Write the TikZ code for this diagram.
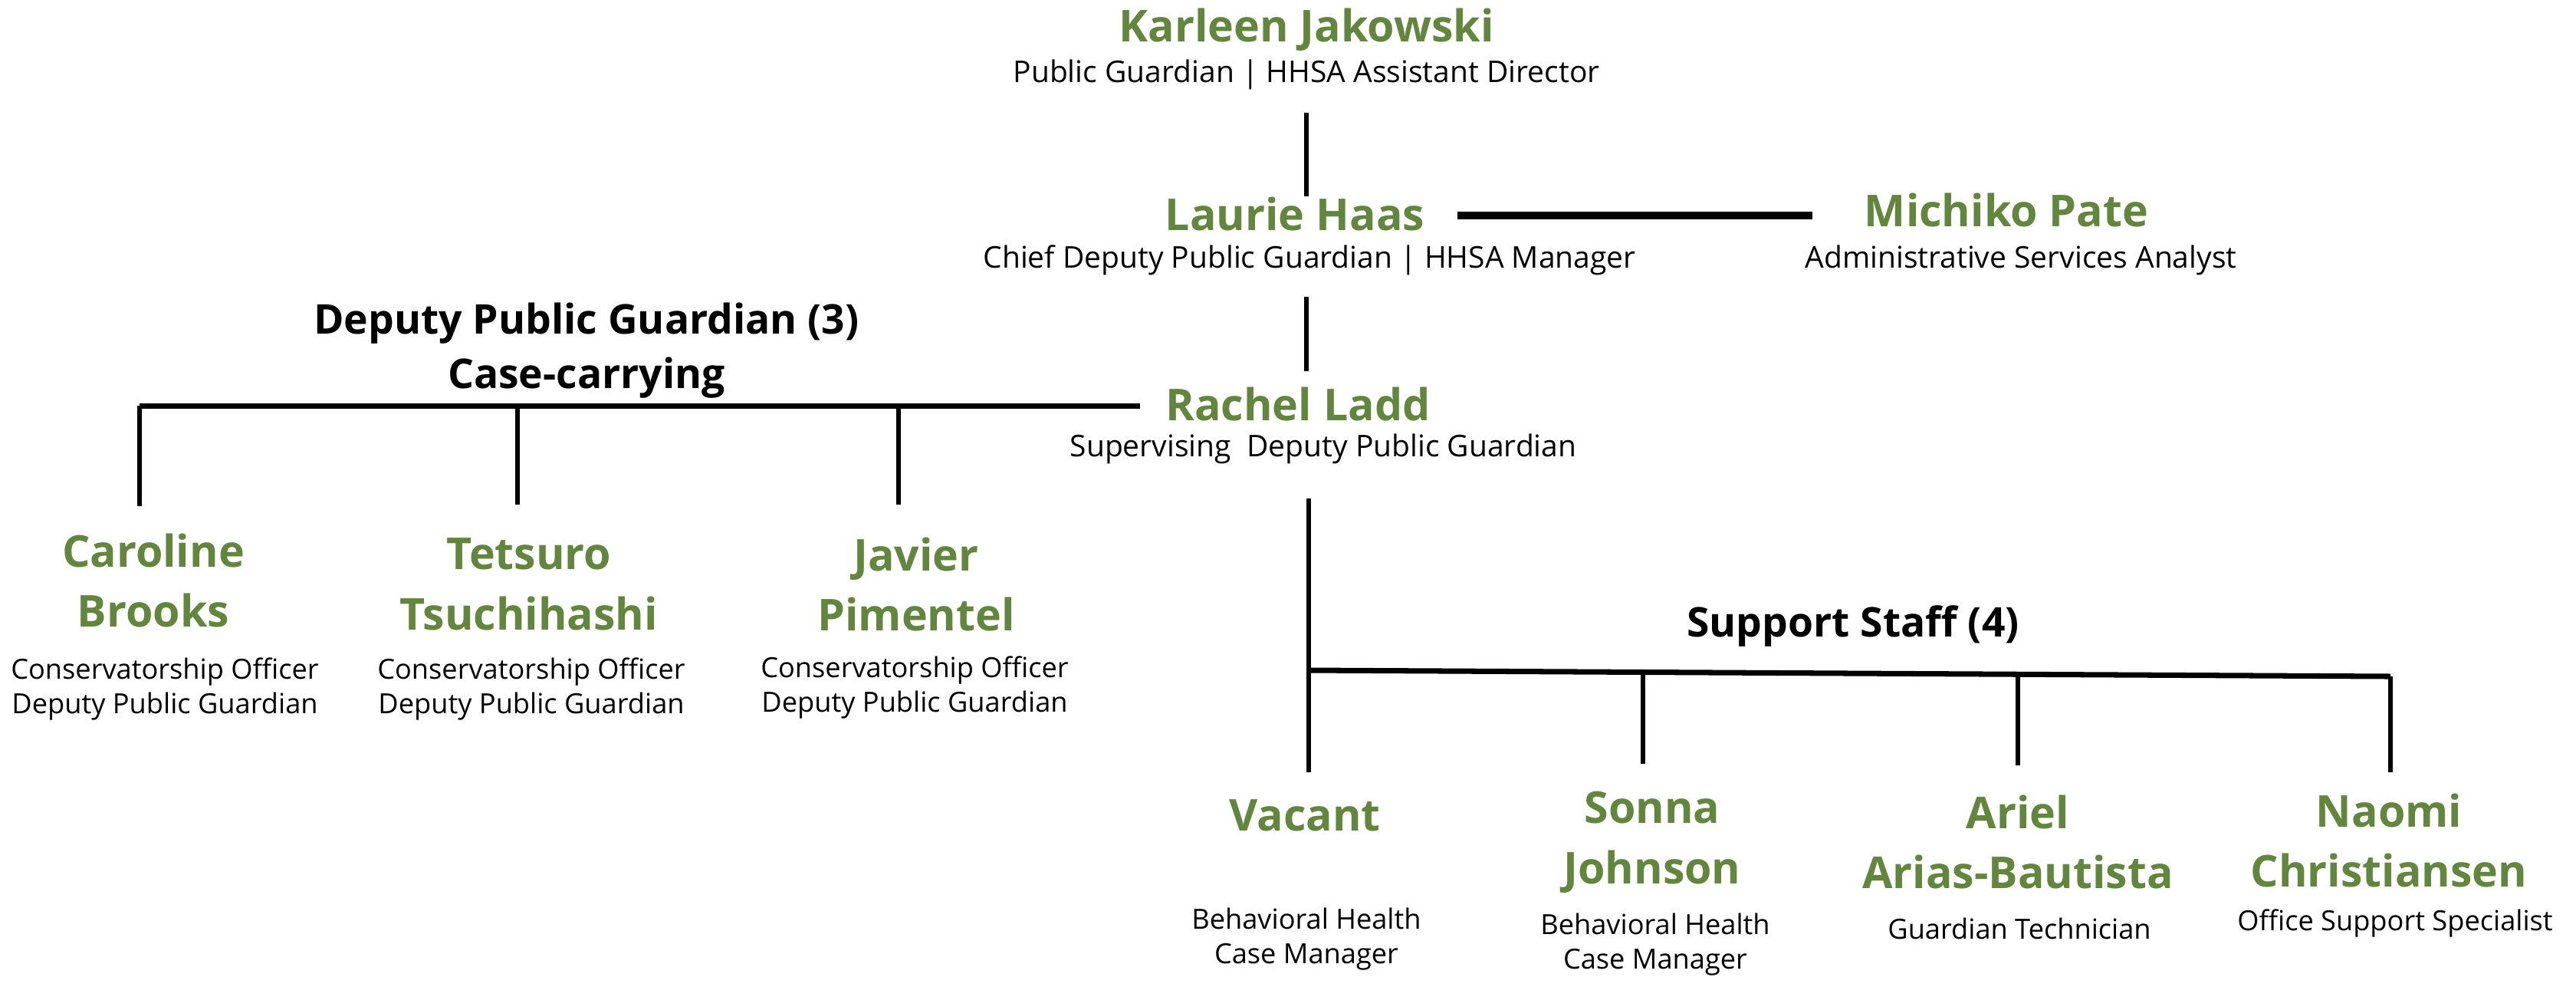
\documentclass[tikz,border=0pt]{standalone}
\usepackage{fontspec}
\setmainfont{Open Sans}
\definecolor{pgGreen}{RGB}{99,134,62}
\begin{document}
\begin{tikzpicture}[
  pname/.style={font=\fontsize{16.3}{22.4}\selectfont\bfseries, text=pgGreen, align=center, inner sep=0pt},
  ptitle/.style={font=\fontsize{10.3}{12.8}\selectfont, align=center, inner sep=0pt},
  toptitle/.style={font=\fontsize{11.1}{13.5}\selectfont, align=center, inner sep=0pt},
  pgroup/.style={font=\fontsize{15.2}{20}\selectfont\bfseries, align=center, inner sep=0pt},
  link/.style={line width=1.5pt},
  bar/.style={line width=2pt}]
\useasboundingbox (0,0) rectangle (33.6,-12.86);
% top of the chart
\node[pname] (kname) at (17.04,-0.39){Karleen Jakowski};
\node[toptitle] (ktitle) at (17.04,-0.97){Public Guardian | HHSA Assistant Director};
\node[pname] (lname) at (16.89,-2.79){Laurie Haas};
\node[toptitle] (ltitle) at (17.08,-3.39){Chief Deputy Public Guardian | HHSA Manager};
\node[pname] (mname) at (26.17,-2.74){Michiko Pate};
\node[toptitle] (mtitle) at (26.36,-3.39){Administrative Services Analyst};
\node[pname] (rname) at (16.93,-5.27){Rachel Ladd};
\node[toptitle] (rtitle) at (17.26,-5.85){Supervising\ \ Deputy Public Guardian};
\draw[link] (ktitle.south -| 17.04,0) ++(0,-0.3) coordinate (k0) -- (k0 |- lname.north) coordinate (l0);
\draw[link, shorten >=0.14cm] (k0) -- (l0);
\draw[bar, line width=2.6pt, shorten <=0.42cm, shorten >=0.67cm] (lname.east |- 0,-2.81) -- (mname.west |- 0,-2.81);
\draw[link, shorten <=0.28cm, shorten >=0.2cm] (ltitle.south -| 17.04,0) -- (rname.north -| 17.04,0);
% case-carrying staff
\node[pgroup] (dpg) at (7.65,-4.57){Deputy Public Guardian (3)\\Case-carrying};
\coordinate (cb) at (1.82,-5.29);
\coordinate (tb) at (6.75,-5.29);
\coordinate (jb) at (11.72,-5.29);
\draw[bar, shorten <=0.33cm] (rname.west |- cb) -- (cb);
\node[pname] (cname) at (2.0,-7.57){Caroline\\Brooks};
\node[ptitle] (ctitle) at (2.15,-8.98){Conservatorship Officer\\Deputy Public Guardian};
\node[pname] (tname) at (6.9,-7.62){Tetsuro\\Tsuchihashi};
\node[ptitle] (ttitle) at (6.93,-8.98){Conservatorship Officer\\Deputy Public Guardian};
\node[pname] (jname) at (11.95,-7.62){Javier\\Pimentel};
\node[ptitle] (jtitle) at (11.93,-8.96){Conservatorship Officer\\Deputy Public Guardian};
\draw[link] (cb) -- (cb |- 0,-6.6);
\draw[link] (tb) -- (tb |- 0,-6.58);
\draw[link] (jb) -- (jb |- 0,-6.58);
% support staff
\node[pgroup] (sup) at (24.17,-8.16){Support Staff (4)};
\coordinate (vb) at (17.07,-8.74);
\coordinate (sb) at (21.43,-8.77);
\coordinate (ab) at (26.32,-8.79);
\coordinate (nb) at (31.18,-8.82);
\draw[link, line width=1.8pt, shorten <=0.45cm] (rtitle.south -| vb) -- (vb |- 0,-10.07);
\draw[bar] (vb) -- (nb);
\node[pname] (vname) at (17.02,-10.63){Vacant};
\node[ptitle] (vtitle) at (17.04,-12.25){Behavioral Health\\Case Manager};
\node[pname] (sname) at (21.55,-10.98){Sonna\\Johnson};
\node[ptitle] (stitle) at (21.59,-12.32){Behavioral Health\\Case Manager};
\node[pname] (aname) at (26.32,-10.98){Ariel\\Arias-Bautista};
\node[ptitle] (atitle) at (26.34,-12.11){Guardian Technician};
\node[pname] (nname) at (31.16,-10.96){Naomi\\Christiansen};
\node[ptitle] (ntitle) at (31.24,-12.04){Office Support Specialist};
\draw[link] (sb) -- (sb |- 0,-9.96);
\draw[link] (ab) -- (ab |- 0,-9.98);
\draw[link] (nb) -- (nb |- 0,-10.07);
\end{tikzpicture}
\end{document}
